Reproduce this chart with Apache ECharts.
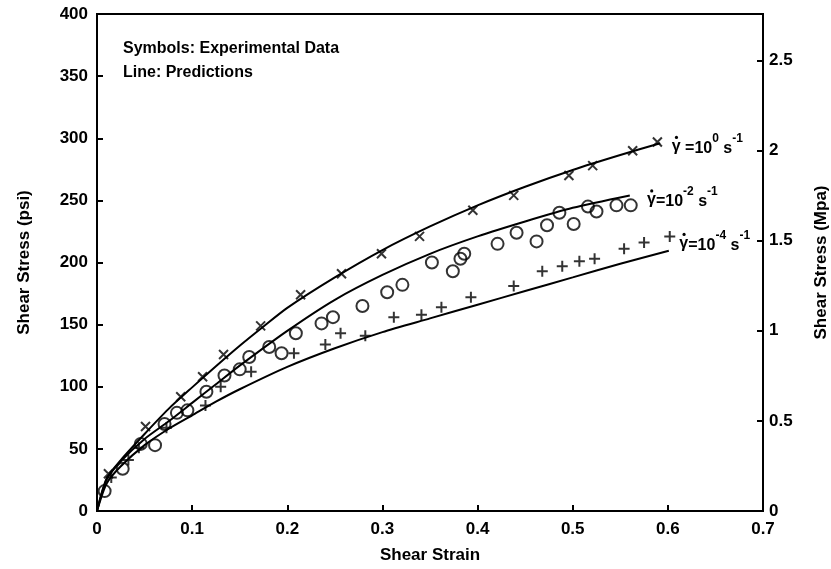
<!DOCTYPE html>
<html>
<head>
<meta charset="utf-8">
<script src="https://cdn.jsdelivr.net/npm/echarts@6/dist/echarts.min.js"></script>
<style>
html,body{margin:0;padding:0;background:#fff;}
#chart{width:831px;height:569px;}
</style>
</head>
<body>
<div id="chart"></div>
<script>
// ---------- data ----------
const xTicks = ['0','0.1','0.2','0.3','0.4','0.5','0.6','0.7'];
const mpaTicks = ['0','0.5','1','1.5','2','2.5'];

// experimental symbols: [shear strain, shear stress psi]
const expRate0 = [[0.012,30],[0.051,68],[0.088,92],[0.111,108],[0.133,126],[0.172,149],[0.214,174],
  [0.257,191],[0.299,207],[0.339,221],[0.395,242],[0.438,254],[0.496,270],[0.521,278],[0.563,290],[0.589,297]];
const expRate2 = [[0.008,16],[0.027,34],[0.046,54],[0.061,53],[0.071,70],[0.084,79],[0.095,81],
  [0.115,96],[0.134,109],[0.150,114],[0.160,124],[0.181,132],[0.194,127],[0.209,143],[0.236,151],
  [0.248,156],[0.279,165],[0.305,176],[0.321,182],[0.352,200],[0.374,193],[0.382,203],[0.386,207],
  [0.421,215],[0.441,224],[0.462,217],[0.473,230],[0.486,240],[0.501,231],[0.516,245],[0.525,241],
  [0.546,246],[0.561,246]];
const expRate4 = [[0.015,27],[0.033,41],[0.044,51],[0.073,67],[0.114,85],[0.130,100],[0.162,112],
  [0.207,127],[0.240,134],[0.256,143],[0.282,141],[0.312,156],[0.341,158],[0.362,164],[0.393,172],
  [0.438,181],[0.468,193],[0.489,197],[0.507,201],[0.523,203],[0.554,211],[0.575,216],[0.602,221]];

// predictions (lines)
const predStrain0 = [0,0.01,0.025,0.05,0.075,0.1,0.125,0.15,0.175,0.2,0.25,0.3,0.35,0.4,0.45,0.5,0.55,0.592];
const predStress0 = [0,26,41,62,82,99.5,116.5,133,148.5,163.5,188,210,229,246,261,274.5,286.5,296];
const predStrain2 = [0,0.01,0.025,0.05,0.075,0.1,0.125,0.15,0.2,0.25,0.3,0.35,0.4,0.45,0.5,0.56];
const predStress2 = [0,25,40,58,72,87,102,117,145,170,190,207,221,233,244,254];
const predStrain4 = [0,0.01,0.025,0.05,0.075,0.1,0.125,0.15,0.2,0.25,0.3,0.35,0.4,0.45,0.5,0.55,0.601];
const predStress4 = [0,22,36,53,66,77,88,98,116,131,144,155,166,177,188,199,209.5];

const PSI_PER_MPA = 145.0377;

// ---------- chart ----------
const FONT = '"Liberation Sans", Arial, Helvetica, sans-serif';
const zip = (a, b) => a.map((v, i) => [v, b[i]]);
const chart = echarts.init(document.getElementById('chart'), null, {renderer: 'canvas'});

const tickLab = {color: '#000', fontSize: 17, fontWeight: 'bold', fontFamily: FONT};
const axLine = {show: true, lineStyle: {color: '#000', width: 2}};
const axTick = {show: true, inside: true, length: 6, lineStyle: {color: '#000', width: 2}};

const crossPath = 'path://M0,0L10,10M0,10L10,0';
const plusPath = 'path://M5,0L5,10M0,5L10,5';

function lineSeries(x, y) {
  return {type: 'line', data: zip(x, y), showSymbol: false, symbol: 'none', smooth: 0.25,
    lineStyle: {color: '#000', width: 2}, z: 3, silent: true};
}
function scatterSeries(d, symbol, size) {
  return {type: 'scatter', data: d, symbol: symbol, symbolSize: size,
    itemStyle: {color: 'rgba(0,0,0,0)', borderColor: '#000', borderWidth: 2}, z: 4, silent: true};
}

const option = {
  animation: false,
  backgroundColor: '#fff',
  grid: {left: 97, right: 68, top: 14, bottom: 58, containLabel: false, outerBoundsMode: 'none',
    show: true, borderColor: '#000', borderWidth: 2, backgroundColor: 'transparent'},
  xAxis: {
    type: 'value', min: 0, max: 0.7, interval: 0.1,
    name: 'Shear Strain', nameLocation: 'middle', nameGap: 36,
    nameTextStyle: {color: '#000', fontSize: 17, fontWeight: 'bold', fontFamily: FONT},
    axisLine: axLine, axisTick: axTick, splitLine: {show: false},
    axisLabel: Object.assign({margin: 10, formatter: v => xTicks[Math.round(v * 10)] || ''}, tickLab)
  },
  yAxis: [{
    type: 'value', min: 0, max: 400, interval: 50,
    name: 'Shear Stress (psi)', nameLocation: 'middle', nameGap: 64,
    nameTextStyle: {color: '#000', fontSize: 17, fontWeight: 'bold', fontFamily: FONT},
    axisLine: axLine, axisTick: axTick, splitLine: {show: false},
    axisLabel: Object.assign({margin: 9}, tickLab)
  }, {
    type: 'value', min: 0, max: 400 / PSI_PER_MPA, interval: 0.5, position: 'right',
    name: 'Shear Stress (Mpa)', nameLocation: 'middle', nameGap: 50, nameRotate: 90,
    nameTextStyle: {color: '#000', fontSize: 17, fontWeight: 'bold', fontFamily: FONT},
    axisLine: axLine, axisTick: {show: true, inside: true, length: 6, lineStyle: {color: '#000', width: 2}},
    splitLine: {show: false},
    axisLabel: Object.assign({margin: 6, formatter: v => {
      const k = Math.round(v / 0.5);
      return Math.abs(v - k * 0.5) < 1e-6 ? (mpaTicks[k] || '') : '';
    }}, tickLab)
  }],
  series: [
    lineSeries(predStrain0, predStress0),
    lineSeries(predStrain2, predStress2),
    lineSeries(predStrain4, predStress4),
    scatterSeries(expRate0, crossPath, 9),
    scatterSeries(expRate2, 'circle', 12),
    scatterSeries(expRate4, plusPath, 11)
  ]
};
chart.setOption(option);

// ---------- text annotations ----------
const richStyles = {
  b: {fontSize: 16, fontWeight: 'bold', fontFamily: FONT, color: '#000', lineHeight: 24, verticalAlign: 'bottom'},
  s: {fontSize: 12, fontWeight: 'bold', fontFamily: FONT, color: '#000', lineHeight: 12, verticalAlign: 'top'}
};
const rateLabels = [
  {at: [0.604, 295], rest: '{b| =10}{s|0}{b| s}{s|-1}'},
  {at: [0.578, 252], rest: '{b|=10}{s|-2}{b| s}{s|-1}'},
  {at: [0.612, 217], rest: '{b|=10}{s|-4}{b| s}{s|-1}'}
];
const graphics = rateLabels.map(l => {
  const p = chart.convertToPixel({xAxisIndex: 0, yAxisIndex: 0}, l.at);
  return {type: 'group', x: p[0], y: p[1], z: 10, children: [
    {type: 'text', x: 0, y: 2, style: {text: '\u03B3', fill: '#000', fontSize: 16, fontWeight: 'bold',
      fontFamily: FONT, align: 'left', verticalAlign: 'middle'}},
    {type: 'circle', shape: {cx: 4.8, cy: -7, r: 1.6}, style: {fill: '#000'}},
    {type: 'text', x: 9, y: 0, style: {text: l.rest, rich: richStyles, align: 'left', verticalAlign: 'middle'}}
  ]};
});
graphics.push({type: 'text', x: 123, y: 37, z: 10,
  style: {text: 'Symbols: Experimental Data\nLine: Predictions', fill: '#000', fontSize: 16, fontWeight: 'bold',
    fontFamily: FONT, lineHeight: 24}});
chart.setOption({graphic: graphics});
</script>
</body>
</html>
